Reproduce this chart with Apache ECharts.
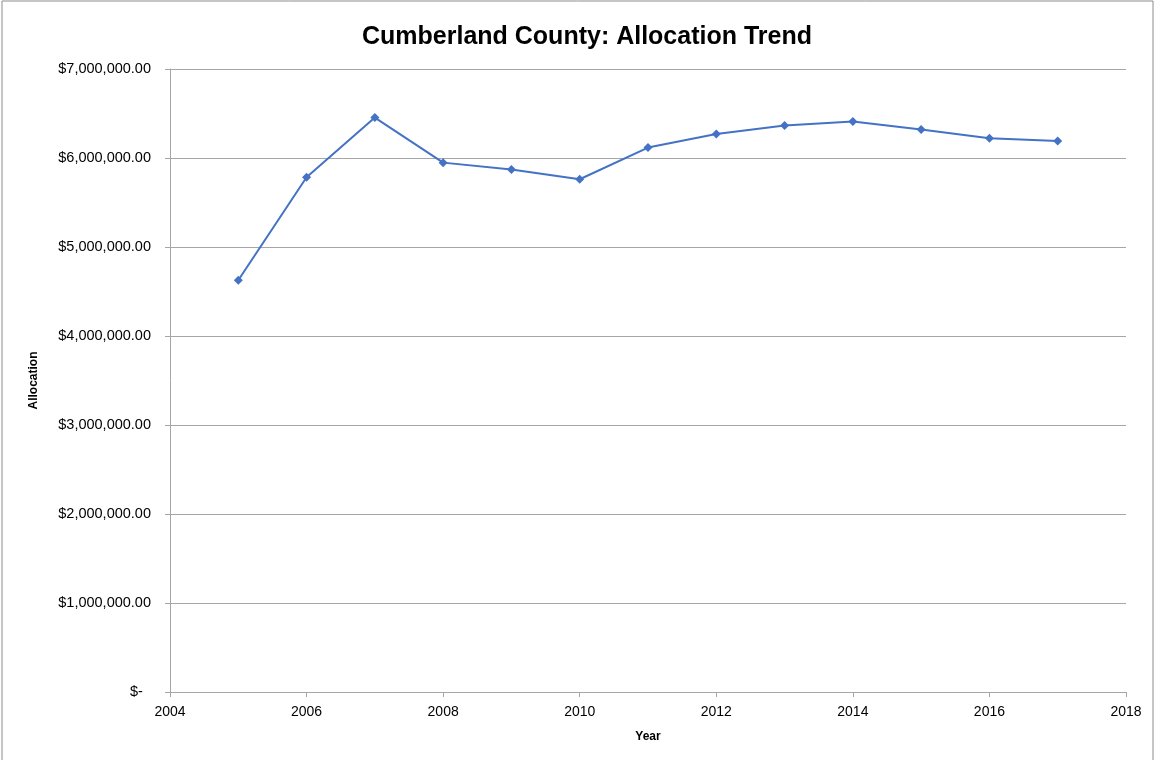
<!DOCTYPE html>
<html>
<head>
<meta charset="utf-8">
<script src="https://cdn.jsdelivr.net/npm/echarts@6/dist/echarts.min.js"></script>
<style>html,body{margin:0;padding:0;background:#fff;}#c{width:1155px;height:760px;}</style>
</head>
<body>
<div id="c"></div>
<script>
const years = [2005, 2006, 2007, 2008, 2009, 2010, 2011, 2012, 2013, 2014, 2015, 2016, 2017];
const allocation = [4626000, 5783000, 6454000, 5948000, 5870000, 5761000, 6117000, 6270000, 6364000, 6409000, 6319000, 6221000, 6191000];
const titleText = 'Cumberland County: Allocation Trend';

const chart = echarts.init(document.getElementById('c'));
const font = 'Liberation Sans, Arial, sans-serif';
function fmt(v) {
  if (v === 0) return '$-  ';
  return '$' + v.toLocaleString('en-US', {minimumFractionDigits: 2, maximumFractionDigits: 2});
}
chart.setOption({
  animation: false,
  backgroundColor: '#fff',
  graphic: [{type: 'rect', shape: {x: 2, y: 1, width: 1151, height: 770}, style: {fill: 'none', stroke: '#8c8c8c', lineWidth: 1}, silent: true}],
  title: {text: titleText, left: 582, top: 20, textAlign: 'center',
    textStyle: {fontFamily: font, fontSize: 25, fontWeight: 'bold', color: '#000'}},
  grid: {left: 170, right: 29, top: 69, bottom: 68},
  xAxis: {
    type: 'value', min: 2004, max: 2018, interval: 2,
    name: 'Year', nameLocation: 'middle', nameGap: 39,
    nameTextStyle: {fontFamily: font, fontSize: 12, fontWeight: 'bold', color: '#000'},
    axisLine: {lineStyle: {color: '#a6a6a6', width: 1}},
    axisTick: {show: true, length: 5, lineStyle: {color: '#a6a6a6'}},
    splitLine: {show: false},
    axisLabel: {fontFamily: font, fontSize: 14, color: '#000', margin: 13, formatter: v => String(v)}
  },
  yAxis: {
    type: 'value', min: 0, max: 7000000, interval: 1000000,
    name: 'Allocation', nameLocation: 'middle', nameGap: 130, nameRotate: 90,
    nameTextStyle: {fontFamily: font, fontSize: 12, fontWeight: 'bold', color: '#000'},
    axisLine: {show: true, lineStyle: {color: '#a6a6a6', width: 1}},
    axisTick: {show: true, length: 5, inside: false, lineStyle: {color: '#a6a6a6'}},
    splitLine: {show: true, lineStyle: {color: '#a6a6a6', width: 1}},
    axisLabel: {fontFamily: font, fontSize: 14.5, color: '#000', margin: 19, formatter: fmt}
  },
  series: [{
    type: 'line',
    data: years.map((y, i) => [y, allocation[i]]),
    symbol: 'diamond', symbolSize: 9,
    lineStyle: {color: '#4472C4', width: 2},
    itemStyle: {color: '#4472C4'}
  }]
});
</script>
</body>
</html>
